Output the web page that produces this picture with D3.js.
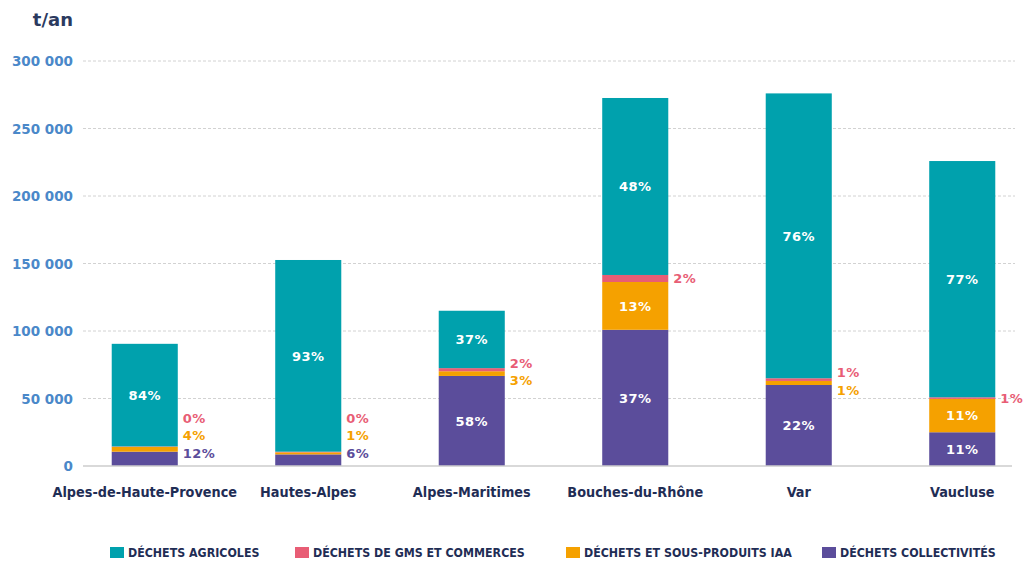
<!DOCTYPE html>
<html>
<head>
<meta charset="utf-8">
<script src="https://cdn.jsdelivr.net/npm/d3@7/dist/d3.min.js"></script>
<style>
  html, body { margin: 0; padding: 0; background: #fff; }
  svg { display: block; }
</style>
</head>
<body>
<svg id="chart" width="1024" height="561"></svg>
<script>
// ---- Data (tonnes / an) ----
const categories = ["Alpes-de-Haute-Provence", "Hautes-Alpes", "Alpes-Maritimes", "Bouches-du-Rhône", "Var", "Vaucluse"];
const collectivites = [10600, 8600, 66700, 100900, 60000, 25000];
const iaa = [3600, 1500, 3500, 35400, 3000, 24700];
const gms = [300, 500, 2300, 5200, 2000, 1200];
const agricoles = [76000, 142000, 42500, 131100, 211000, 175000];
const yTicks = [0, 50000, 100000, 150000, 200000, 250000, 300000];
const seriesNames = ["DÉCHETS AGRICOLES", "DÉCHETS DE GMS ET COMMERCES", "DÉCHETS ET SOUS-PRODUITS IAA", "DÉCHETS COLLECTIVITÉS"];

const colors = {
  coll: "#5b4d9b",
  iaa: "#f5a100",
  gms: "#e85d75",
  agri: "#00a1ad"
};
const stackOrder = ["coll", "iaa", "gms", "agri"];
const legendKeys = ["agri", "gms", "iaa", "coll"];

const rows = categories.map((c, i) => ({
  cat: c, coll: collectivites[i], iaa: iaa[i], gms: gms[i], agri: agricoles[i]
}));

const svg = d3.select("#chart");
const x = d3.scaleBand().domain(categories).range([63, 1044]).paddingInner(0.596).paddingOuter(0.298);
const y = d3.scaleLinear().domain([0, 300000]).range([466, 61]);

const numFmt = v => d3.format(",")(v).replace(/,/g, " ");

// gridlines
svg.append("g").selectAll("line").data(yTicks.filter(t => t > 0)).join("line")
  .attr("x1", 83).attr("x2", 1015)
  .attr("y1", d => y(d)).attr("y2", d => y(d))
  .attr("stroke", "#d2d2d2").attr("stroke-width", 1).attr("stroke-dasharray", "3,2");

// y axis labels
const yAxis = d3.axisLeft(y).tickValues(yTicks).tickFormat(numFmt).tickSize(0).tickPadding(0);
const yg = svg.append("g").attr("transform", "translate(73,0)").call(yAxis);
yg.select(".domain").remove();
yg.selectAll("text")
  .attr("fill", "#4a88c9").attr("font-family", "DejaVu Sans").attr("font-weight", "bold").attr("font-size", "13.5px")
  .attr("dy", "0.35em");

// title
svg.append("text").attr("x", 73).attr("y", 26).attr("text-anchor", "end")
  .attr("font-family", "DejaVu Sans").attr("font-weight", "bold").attr("font-size", "18px")
  .attr("fill", "#2b3a5f").text("t/an");

// stacked bars
const stack = d3.stack().keys(stackOrder);
const stacked = stack(rows);

const barsG = svg.append("g");
stacked.forEach(layer => {
  barsG.append("g").attr("fill", colors[layer.key]).selectAll("rect").data(layer).join("rect")
    .attr("x", d => x(d.data.cat))
    .attr("width", x.bandwidth())
    .attr("y", d => y(d[1]))
    .attr("height", d => y(d[0]) - y(d[1]));
});

// baseline
svg.append("line").attr("x1", 83).attr("x2", 1012).attr("y1", y(0)).attr("y2", y(0))
  .attr("stroke", "#cccccc").attr("stroke-width", 1.5);

// labels
const labelG = svg.append("g").attr("font-family", "DejaVu Sans").attr("font-weight", "bold").attr("font-size", "13px");
rows.forEach((r, i) => {
  const total = stackOrder.reduce((s, k) => s + r[k], 0);
  const outside = [];
  stackOrder.forEach((k, li) => {
    const seg = stacked[li][i];
    const h = y(seg[0]) - y(seg[1]);
    const pct = Math.round(r[k] / total * 100) + "%";
    const cy = (y(seg[0]) + y(seg[1])) / 2;
    if (h >= 20) {
      labelG.append("text").attr("x", x(r.cat) + x.bandwidth() / 2).attr("y", cy).attr("dy", "0.36em")
        .attr("text-anchor", "middle").attr("fill", "#ffffff").attr("letter-spacing", "0.5px").text(pct);
    } else {
      outside.push({ k, pct, cy });
    }
  });
  if (outside.length) {
    const gap = 17.5;
    const n = outside.length;
    const mean = d3.mean(outside, d => d.cy);
    let bottom = mean + gap * (n - 1) / 2;
    bottom = Math.min(bottom, y(0) - 13);
    outside.forEach((o, j) => {
      labelG.append("text").attr("x", x(r.cat) + x.bandwidth() + 5).attr("y", bottom - j * gap).attr("dy", "0.36em")
        .attr("text-anchor", "start").attr("fill", colors[o.k]).attr("letter-spacing", "0.5px").text(o.pct);
    });
  }
});

// x labels
svg.append("g").selectAll("text").data(categories).join("text")
  .attr("x", d => x(d) + x.bandwidth() / 2).attr("y", 497)
  .attr("text-anchor", "middle")
  .attr("font-family", "DejaVu Sans Condensed, DejaVu Sans").attr("font-stretch", "condensed")
  .attr("font-weight", "bold").attr("font-size", "14.3px").attr("fill", "#1f2d55")
  .text(d => d);

// legend
const legendX = [110, 295, 566, 822];
const lg = svg.append("g");
legendKeys.forEach((k, i) => {
  lg.append("rect").attr("x", legendX[i]).attr("y", 547).attr("width", 14).attr("height", 11).attr("fill", colors[k]);
  lg.append("text").attr("x", legendX[i] + 18).attr("y", 557)
    .attr("font-family", "DejaVu Sans Condensed, DejaVu Sans").attr("font-stretch", "condensed")
    .attr("font-weight", "bold").attr("font-size", "12.3px").attr("fill", "#1f2d55")
    .text(seriesNames[i]);
});
</script>
</body>
</html>
